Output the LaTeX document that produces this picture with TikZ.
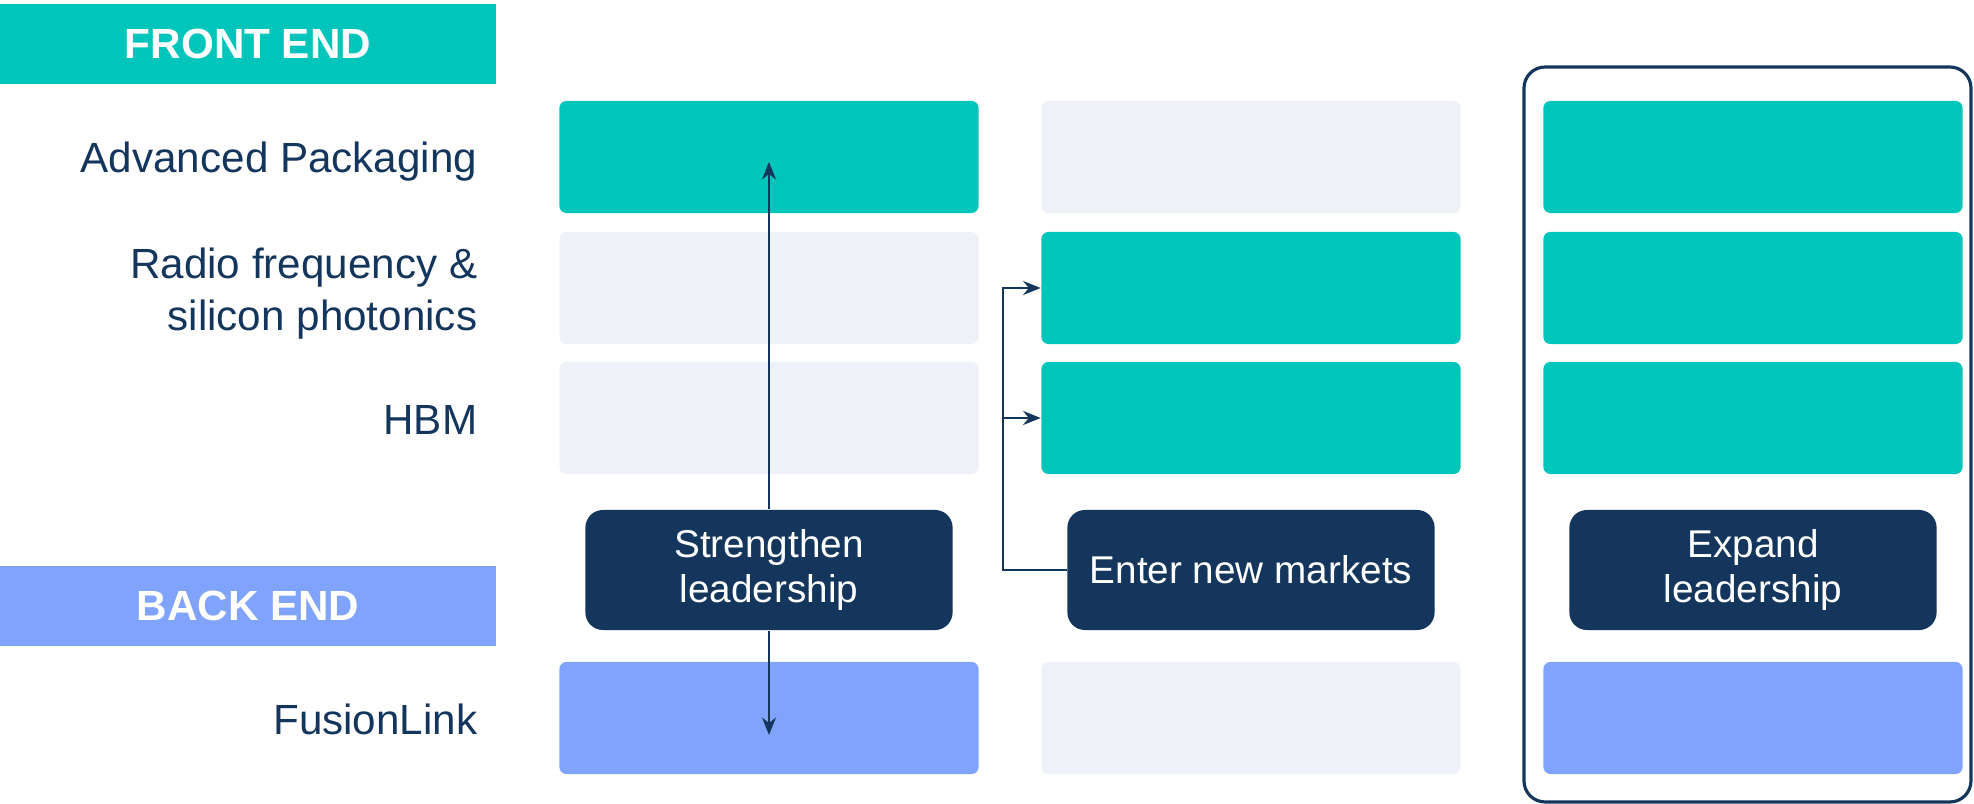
\documentclass[tikz,border=0pt]{standalone}
\usepackage{fontspec}
\setmainfont{Liberation Sans}
\usetikzlibrary{arrows.meta}
\definecolor{teal}{RGB}{0,197,186}
\definecolor{pale}{RGB}{238,242,248}
\definecolor{blu}{RGB}{128,164,253}
\definecolor{navy}{RGB}{20,54,93}
\begin{document}
\begin{tikzpicture}[x=0.01cm,y=-0.01cm]
      \tikzstyle{banner} = [rectangle, minimum width=4.96cm, minimum height=0.79cm, text=white, font=\fontsize{12}{14}\selectfont\bfseries, inner sep=0pt]
      \tikzstyle{rowlabel} = [anchor=base east, align=right, text=navy, font=\fontsize{12}{14.8}\selectfont, inner sep=0pt]
      \tikzstyle{cell} = [rectangle, rounded corners=2pt, minimum width=4.19cm, minimum height=1.12cm, inner sep=0pt]
      \tikzstyle{action} = [rectangle, rounded corners=5pt, minimum width=3.67cm, minimum height=1.2cm, fill=navy, text=white, align=center, font=\fontsize{11}{13}\selectfont, inner sep=0pt]
      \tikzstyle{arrow} = [navy, line width=0.6pt, -{Stealth[length=5pt,width=4pt]}]

      \useasboundingbox (0,0) rectangle (1974,804);

      % headings on the left
      \node (front) [banner, fill=teal] at (248,44) {FRONT END};
      \node (back) [banner, fill=blu] at (248,606) {BACK END};

      \node (lap) [rowlabel] at (478,173) {Advanced Packaging};
      \node (lrf) [rowlabel, anchor=east] at (478,294) {Radio frequency \&\\silicon photonics};
      \node (lhbm) [rowlabel] at (478,435) {HBM};
      \node (lfl) [rowlabel] at (478,735) {FusionLink};

      % frame round the last column
      \draw [navy, line width=0.9pt, rounded corners=6pt] (1524,67) rectangle (1971,802);

      % column 1
      \node (c1r1) [cell, fill=teal] at (769,157) {};
      \node (c1r2) [cell, fill=pale] at (769,288) {};
      \node (c1r3) [cell, fill=pale] at (769,418) {};
      \node (c1r5) [cell, fill=blu] at (769,718) {};
      % column 2
      \node (c2r1) [cell, fill=pale] at (1251,157) {};
      \node (c2r2) [cell, fill=teal] at (1251,288) {};
      \node (c2r3) [cell, fill=teal] at (1251,418) {};
      \node (c2r5) [cell, fill=pale] at (1251,718) {};
      % column 3
      \node (c3r1) [cell, fill=teal] at (1753,157) {};
      \node (c3r2) [cell, fill=teal] at (1753,288) {};
      \node (c3r3) [cell, fill=teal] at (1753,418) {};
      \node (c3r5) [cell, fill=blu] at (1753,718) {};

      \node (strong) [action] at (769,570) {Strengthen\\leadership};
      \node (enter) [action] at (1251,570) {Enter new markets};
      \node (expand) [action] at (1753,570) {Expand\\leadership};

      \coordinate (uptip) at (769,162);
      \coordinate (downtip) at (769,735);
      \coordinate (split) at (1003,570);

      \draw [arrow] (strong.north) -- (uptip);
      \draw [arrow] (strong.south) -- (downtip);

      \draw [arrow] (enter.west) -- (split) |- (c2r2.west);
      \draw [arrow] (split |- c2r3.west) -- (c2r3.west);
   \end{tikzpicture}
\end{document}
